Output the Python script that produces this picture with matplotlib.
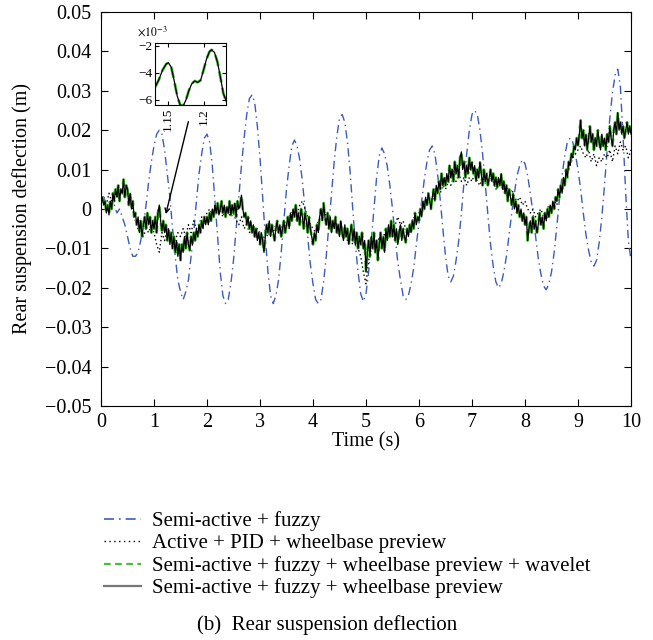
import numpy as np
import matplotlib
matplotlib.use("Agg")
import matplotlib.pyplot as plt
from matplotlib.lines import Line2D

plt.rcParams['font.family'] = ['Liberation Serif', 'DejaVu Serif']
plt.rcParams['mathtext.fontset'] = 'stix'

# semi-active + fuzzy (every 0.05 s)
fuzzy = [
    0.002, 0.003, 0.001, 0.002, 0.000, 0.001, -0.001, 0.000, -0.002, -0.004,
    -0.007, -0.010, -0.012, -0.012, -0.011, -0.008, -0.004, 0.001, 0.007, 0.012,
    0.016, 0.019, 0.020, 0.019, 0.015, 0.009, 0.003, -0.005, -0.012, -0.018,
    -0.021, -0.023, -0.021, -0.018, -0.012, -0.006, 0.002, 0.009, 0.014, 0.018,
    0.019, 0.017, 0.011, 0.002, -0.007, -0.016, -0.022, -0.024, -0.023, -0.019,
    -0.013, -0.005, 0.003, 0.011, 0.018, 0.024, 0.028, 0.029, 0.027, 0.021,
    0.013, 0.003, -0.007, -0.016, -0.022, -0.024, -0.022, -0.018, -0.011, -0.003,
    0.005, 0.011, 0.016, 0.0175, 0.016, 0.0125, 0.007, 0.000, -0.007, -0.014,
    -0.019, -0.023, -0.024, -0.023, -0.0185, -0.012, -0.004, 0.004, 0.012, 0.0185,
    0.023, 0.024, 0.022, 0.017, 0.0095, 0.000, -0.009, -0.016, -0.0215, -0.0235,
    -0.0215, -0.016, -0.008, 0.000, 0.008, 0.0135, 0.0155, 0.014, 0.011, 0.006,
    0.000, -0.007, -0.0135, -0.018, -0.022, -0.023, -0.022, -0.019, -0.015, -0.009,
    -0.0035, 0.002, 0.0075, 0.012, 0.015, 0.016, 0.014, 0.009, 0.0025, -0.005,
    -0.012, -0.017, -0.0185, -0.017, -0.013, -0.008, -0.001, 0.007, 0.014, 0.020,
    0.024, 0.025, 0.024, 0.020, 0.014, 0.0065, -0.0015, -0.009, -0.0145, -0.0185,
    -0.020, -0.019, -0.016, -0.012, -0.0065, -0.001, 0.004, 0.0085, 0.011, 0.0125,
    0.0115, 0.0085, 0.004, -0.001, -0.007, -0.0125, -0.0165, -0.0195, -0.0205, -0.019,
    -0.016, -0.011, -0.0045, 0.0025, 0.0085, 0.0135, 0.017, 0.018, 0.017, 0.014,
    0.010, 0.005, -0.001, -0.0065, -0.0105, -0.0135, -0.0145, -0.013, -0.0085, -0.002,
    0.006, 0.015, 0.023, 0.0295, 0.034, 0.0355, 0.031, 0.0185, 0.004, -0.008,
    -0.013,
]

# active + PID + wheelbase preview (every 0.05 s)
pid = [
    0.002, 0.003, 0.001, 0.004, 0.002, 0.005, 0.003, 0.005, 0.004, 0.003,
    0.004, 0.002, 0.000, -0.003, -0.005, -0.004, -0.007, -0.005, -0.006, -0.004,
    -0.006, -0.009, -0.011, -0.006, -0.008, -0.005, -0.007, -0.006, -0.008, -0.006,
    -0.007, -0.005, -0.007, -0.004, -0.006, -0.003, -0.005, -0.004, -0.002, -0.003,
    -0.001, 0.000, -0.002, 0.001, -0.001, 0.000, -0.002, 0.000, -0.001, -0.002,
    -0.001, -0.003, -0.004, -0.002, -0.005, -0.004, -0.006, -0.005, -0.007, -0.005,
    -0.006, -0.008, -0.006, -0.007, -0.005, -0.006, -0.004, -0.006, -0.005, -0.003,
    -0.004, -0.002, -0.001, 0.000, -0.001, 0.001, 0.002, 0.000, -0.002, -0.004,
    -0.005, -0.006, -0.003, -0.002, 0.000, -0.002, -0.004, -0.003, -0.005, -0.004,
    -0.006, -0.005, -0.006, -0.008, -0.007, -0.009, -0.008, -0.010, -0.012, -0.016,
    -0.019, -0.013, -0.010, -0.008, -0.010, -0.007, -0.009, -0.006, -0.008, -0.005,
    -0.006, -0.004, -0.002, -0.004, -0.003, -0.005, -0.006, -0.004, -0.002, -0.003,
    -0.001, 0.001, 0.000, 0.002, 0.003, 0.002, 0.004, 0.005, 0.004, 0.006,
    0.005, 0.007, 0.006, 0.008, 0.007, 0.009, 0.007, 0.008, 0.006, 0.008,
    0.007, 0.009, 0.007, 0.006, 0.008, 0.007, 0.006, 0.008, 0.007, 0.005,
    0.006, 0.007, 0.005, 0.006, 0.004, 0.005, 0.003, 0.002, 0.003, 0.001,
    0.002, 0.000, -0.001, 0.000, -0.002, -0.001, 0.000, -0.002, -0.001, 0.001,
    0.000, 0.002, 0.001, 0.004, 0.005, 0.007, 0.009, 0.011, 0.013, 0.014,
    0.015, 0.016, 0.014, 0.013, 0.015, 0.012, 0.014, 0.011, 0.013, 0.012,
    0.014, 0.013, 0.015, 0.012, 0.016, 0.014, 0.017, 0.015, 0.016, 0.013,
    0.015,
]

# semi-active + fuzzy + wheelbase preview (every 0.025 s)
preview = [
    0.0015, 0.003, 0.001, 0.002, -0.001, 0.001, -0.0015, 0.002, 0.000, 0.004,
    0.002, 0.005, 0.003, 0.006, 0.002, 0.005, 0.004, 0.0075, 0.003, 0.006,
    0.005, 0.001, 0.004, 0.000, 0.002, -0.002, -0.001, -0.004, -0.002, -0.006,
    -0.003, -0.007, -0.004, -0.002, -0.005, -0.001, -0.004, -0.002, -0.006, -0.003,
    -0.005, -0.002, -0.006, -0.001, 0.001, -0.003, -0.0055, -0.003, -0.006, -0.004,
    -0.008, -0.005, -0.009, -0.006, -0.010, -0.007, -0.011, -0.008, -0.012, -0.009,
    -0.013, -0.009, -0.011, -0.007, -0.010, -0.006, -0.009, -0.0105, -0.007, -0.009,
    -0.006, -0.008, -0.005, -0.007, -0.004, -0.006, -0.003, -0.005, -0.002, -0.004,
    -0.002, -0.004, -0.001, -0.003, 0.000, -0.002, 0.001, -0.001, 0.0015, -0.0015,
    0.000, 0.002, -0.001, 0.001, -0.002, 0.0005, -0.001, 0.002, -0.0015, 0.001,
    -0.001, 0.0015, -0.002, 0.002, 0.000, 0.001, 0.0035, 0.000, -0.002, -0.001,
    -0.004, -0.002, -0.005, -0.003, -0.006, -0.004, -0.007, -0.005, -0.008, -0.006,
    -0.009, -0.006, -0.008, -0.011, -0.007, -0.004, -0.006, -0.003, -0.007, -0.004,
    -0.006, -0.008, -0.005, -0.003, -0.006, -0.004, -0.007, -0.005, -0.003, -0.006,
    -0.004, -0.002, -0.005, -0.001, -0.003, 0.000, -0.002, 0.001, -0.003, -0.001,
    -0.004, 0.000, -0.002, -0.005, -0.001, -0.003, -0.006, -0.002, -0.005, -0.007,
    -0.009, -0.006, -0.008, -0.004, -0.006, -0.002, 0.000, -0.003, 0.0015, -0.002,
    -0.004, -0.001, -0.005, -0.002, -0.006, -0.003, -0.005, -0.002, -0.006, -0.004,
    -0.007, -0.003, -0.006, -0.008, -0.004, -0.007, -0.005, -0.009, -0.006, -0.004,
    -0.008, -0.005, -0.009, -0.006, -0.010, -0.007, -0.009, -0.006, -0.010, -0.008,
    -0.016, -0.011, -0.008, -0.012, -0.007, -0.010, -0.006, -0.011, -0.008, -0.013,
    -0.009, -0.006, -0.010, -0.007, -0.011, -0.005, -0.008, -0.004, -0.007, -0.003,
    -0.007, -0.004, -0.008, -0.005, -0.009, -0.006, -0.004, -0.008, -0.005, -0.007,
    -0.0085, -0.005, -0.007, -0.004, -0.006, -0.003, -0.005, -0.001, -0.004, -0.002,
    -0.003, 0.000, -0.002, 0.002, 0.000, 0.003, 0.001, 0.004, 0.002, 0.000,
    0.003, 0.005, 0.002, 0.006, 0.004, 0.007, 0.005, 0.009, 0.006, 0.008,
    0.006, 0.009, 0.007, 0.011, 0.008, 0.010, 0.007, 0.012, 0.009, 0.011,
    0.008, 0.013, 0.0145, 0.010, 0.012, 0.008, 0.011, 0.009, 0.013, 0.010,
    0.012, 0.009, 0.011, 0.007, 0.010, 0.008, 0.012, 0.009, 0.006, 0.010,
    0.007, 0.009, 0.006, 0.008, 0.010, 0.007, 0.009, 0.006, 0.008, 0.0055,
    0.008, 0.006, 0.009, 0.005, 0.007, 0.004, 0.006, 0.002, 0.005, 0.003,
    0.001, 0.004, 0.000, 0.002, -0.001, 0.001, -0.002, 0.000, -0.003, -0.001,
    -0.004, -0.002, -0.008, -0.005, -0.003, -0.006, -0.002, -0.005, -0.003, -0.006,
    -0.004, -0.001, -0.004, -0.002, -0.005, -0.001, -0.003, 0.000, -0.002, 0.001,
    -0.001, 0.002, 0.000, 0.003, 0.002, 0.005, 0.003, 0.006, 0.004, 0.008,
    0.006, 0.010, 0.008, 0.012, 0.011, 0.014, 0.013, 0.016, 0.015, 0.018,
    0.016, 0.019, 0.0225, 0.018, 0.020, 0.016, 0.019, 0.015, 0.018, 0.021,
    0.017, 0.019, 0.015, 0.018, 0.016, 0.020, 0.017, 0.015, 0.019, 0.016,
    0.018, 0.015, 0.019, 0.017, 0.021, 0.018, 0.016, 0.020, 0.022, 0.019,
    0.0245, 0.020, 0.022, 0.019, 0.021, 0.018, 0.020, 0.022, 0.019, 0.021,
    0.019,
]
# wavelet version lies on top of the preview trace at this scale
wavelet = list(preview)

# zoomed window around t = 1.2 s (values in 1e-3 m)
inset_t = [1.133, 1.138, 1.143, 1.148, 1.151, 1.155, 1.159, 1.163, 1.167, 1.171,
           1.175, 1.179, 1.183, 1.187, 1.191, 1.195, 1.199, 1.203, 1.207, 1.210,
           1.214, 1.218, 1.222, 1.226, 1.230]
inset_val = [-5.05, -4.5, -3.8, -3.35, -3.25, -3.6, -4.6, -5.7, -6.35, -6.45,
             -6.0, -5.3, -4.8, -4.6, -4.7, -4.55, -3.8, -3.0, -2.45, -2.3,
             -2.5, -3.2, -4.3, -5.5, -6.1]

labels = ['Semi-active + fuzzy',
          'Active + PID + wheelbase preview',
          'Semi-active + fuzzy + wheelbase preview + wavelet',
          'Semi-active + fuzzy + wheelbase preview']

blue = '#3d5cb8'
green = '#4cbb3a'

fig = plt.figure(figsize=(6.53, 6.40), dpi=100)
ax = fig.add_axes([101 / 653, 1 - 406 / 640, 530 / 653, 394 / 640])

t1 = np.linspace(0, 10, len(fuzzy))
t2 = np.linspace(0, 10, len(pid))
t3 = np.linspace(0, 10, len(preview))
ax.plot(t1, fuzzy, color=blue, ls=(0, (6, 3, 1, 3)), lw=1.0)
ax.plot(t2, pid, color='black', ls=(0, (1, 2)), lw=1.0)
ax.plot(t3, wavelet, color=green, ls=(0, (4, 2)), lw=2.0)
ax.plot(t3, preview, color='black', lw=0.9)

ax.set_xlim(0, 10)
ax.set_ylim(-0.05, 0.05)
ax.set_xticks(range(11))
ax.set_yticks(np.arange(-0.05, 0.051, 0.01))
ax.set_yticklabels(['\u22120.05', '\u22120.04', '\u22120.03', '\u22120.02', '\u22120.01',
                    '0', '0.01', '0.02', '0.03', '0.04', '0.05'])
ax.tick_params(direction='in', top=True, right=True, labelsize=14.5, length=5)
ax.tick_params(axis='y', pad=7)
ax.tick_params(axis='x', pad=5)
ax.set_xlabel('Time (s)', fontsize=14.5, labelpad=0)
ax.set_ylabel('Rear suspension deflection (m)', fontsize=14.5, labelpad=9)

# pointer from the zoom box to the curve
ax.annotate('', xy=(1.21, -0.002), xycoords='data',
            xytext=(189, 640 - 119), textcoords='figure pixels',
            arrowprops=dict(arrowstyle='->', lw=1.0, color='black', mutation_scale=8))

axin = fig.add_axes([155 / 653, 1 - 105 / 640, 71 / 653, 62 / 640])
axin.plot(inset_t, inset_val, color=green, ls=(0, (4, 2)), lw=2.0)
axin.plot(inset_t, inset_val, color='black', lw=0.9)
axin.set_xlim(1.1327, 1.2297)
axin.set_ylim(-6.37, -1.8)
axin.set_xticks([1.15, 1.2])
axin.set_xticklabels(['1.15', '1.2'], rotation=90)
axin.set_yticks([-2, -4, -6])
axin.set_yticklabels(['\u22122', '\u22124', '\u22126'])
axin.tick_params(direction='in', top=True, right=True, labelsize=9.5, length=3, pad=2)
axin.text(-0.25, 1.07, r'$\times10^{-3}$', transform=axin.transAxes, fontsize=8.5,
          va='bottom')

handles = [Line2D([], [], color=blue, ls=(0, (6, 3, 1, 3)), lw=1.2),
           Line2D([], [], color='black', ls=(0, (1, 2.5)), lw=1.0),
           Line2D([], [], color=green, ls=(0, (3, 2)), lw=1.6),
           Line2D([], [], color='#777777', lw=1.6)]
fig.legend(handles, labels, loc='upper left', bbox_to_anchor=(94 / 653, 1 - 501 / 640),
           frameon=False, fontsize=15, handlelength=1.75, handletextpad=0.55,
           labelspacing=0.12, borderpad=0)

fig.text(327 / 653, 1 - 625 / 640, '(b)  Rear suspension deflection', fontsize=15,
         ha='center', va='center')

fig.savefig('out.png', dpi=100)
